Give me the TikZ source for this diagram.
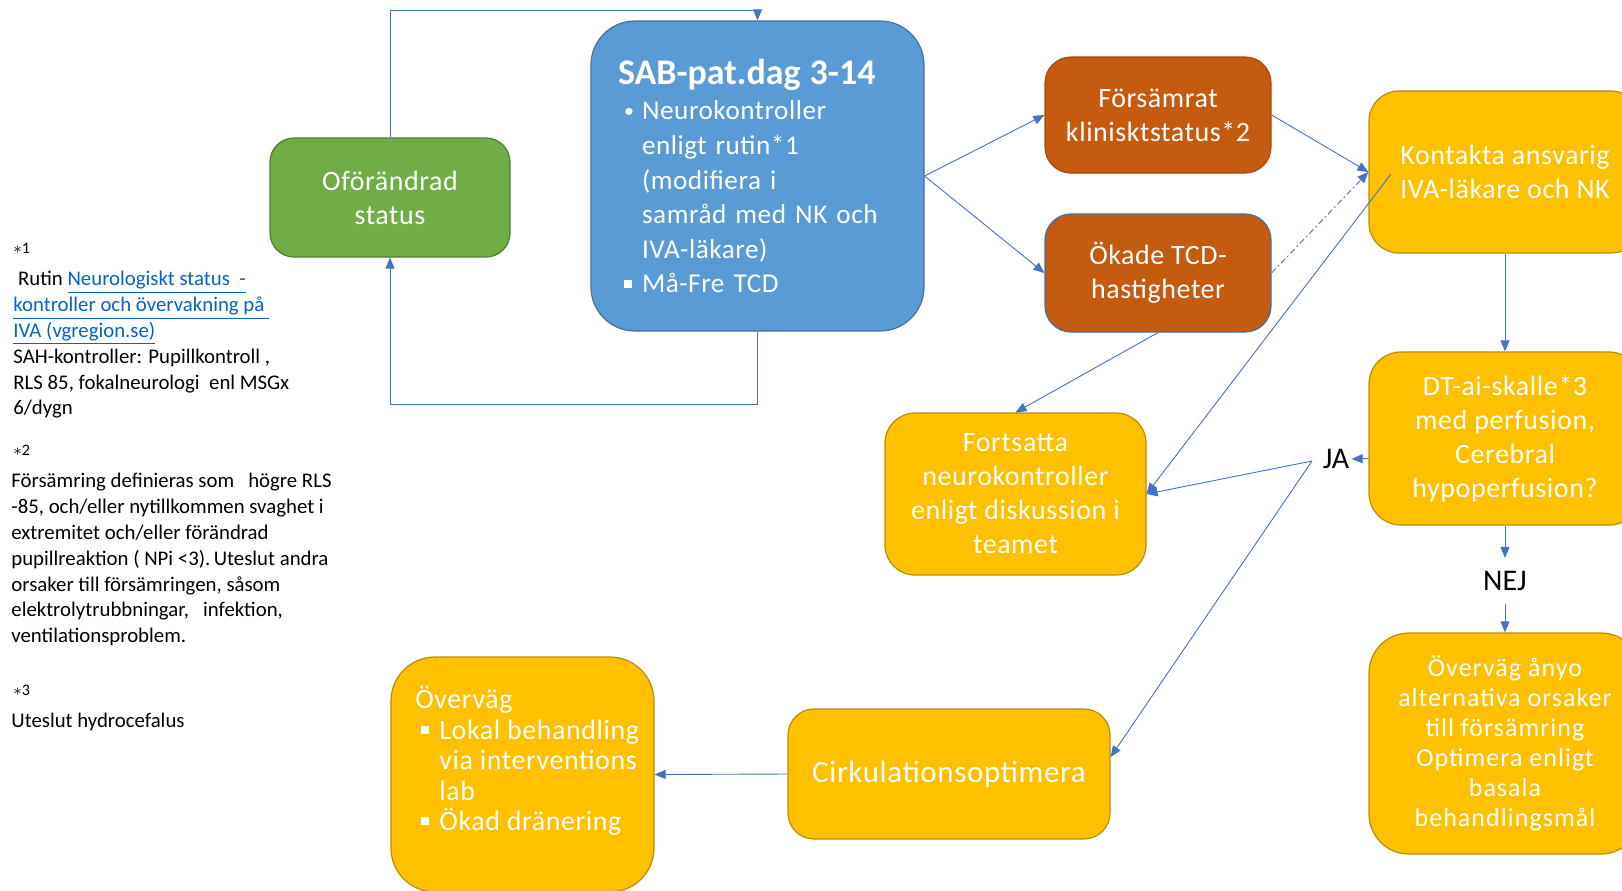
\documentclass[tikz,border=0pt]{standalone}
\usepackage{fontspec}
\setmainfont{Carlito}
\newfontfamily\boxfont[LetterSpace=2]{Carlito}
\newfontfamily\altfont[LetterSpace=4]{Carlito}
\usetikzlibrary{arrows.meta,calc}

\definecolor{stgreen}{HTML}{70AD47}
\definecolor{stgreendk}{HTML}{507E32}
\definecolor{sabblue}{HTML}{5B9BD5}
\definecolor{sabbluedk}{HTML}{41719C}
\definecolor{rust}{HTML}{C55A11}
\definecolor{rustdk}{HTML}{A64B0E}
\definecolor{amber}{HTML}{FFC000}
\definecolor{amberdk}{HTML}{BC8C00}
\definecolor{connblue}{HTML}{4472C4}
\definecolor{linkblue}{HTML}{0563C1}

\newcommand\sqbullet{\rule[2.6pt]{4pt}{4pt}}
\newcommand\rdbullet{\raisebox{1pt}{\fontsize{10}{10}\selectfont\textbullet}}
\newcommand\linktext[1]{\textcolor{linkblue}{\underline{#1}}}

\tikzset{
  box/.style={draw, line width=0.6pt, align=center, text=white, inner sep=0pt,
    font=\boxfont\fontsize{14}{17}\selectfont},
  greenbox/.style={box, fill=stgreen, draw=stgreendk, rounded corners=12pt},
  bluebox/.style={box, fill=sabblue, draw=sabbluedk, rounded corners=22pt},
  rustbox/.style={box, fill=rust, draw=rustdk, rounded corners=13pt},
  amberbox/.style={box, fill=amber, draw=amberdk, rounded corners=15pt},
  conn/.style={draw=connblue, line width=0.45pt, -{Triangle[length=5.5pt,width=4.5pt]}},
  note/.style={inner sep=0pt, align=left, font=\fontsize{10.4}{12.9}\selectfont},
  star/.style={inner sep=0pt, font=\fontsize{8}{9}\selectfont},
  answer/.style={font=\fontsize{15}{18}\selectfont, inner xsep=1pt, inner ysep=6.5pt}
}

\begin{document}
\begin{tikzpicture}[x=0.5pt,y=-0.5pt]
\useasboundingbox (0,0) rectangle (1622,890);

% footnotes
\node[star, anchor=base west] (s1) at (13,253) {$\ast$1};
\node[note, anchor=north west] (n1) at (13,271) {\ Rutin \linktext{Neurologiskt status\ \ -}\\
  \linktext{kontroller och övervakning på\ }\\
  \linktext{IVA (vgregion.se)}\\
  SAH-kontroller: Pupillkontroll ,\\
  RLS 85, fokalneurologi\ \ enl MSGx\\
  6/dygn};
\node[star, anchor=base west] (s2) at (13,455) {$\ast$2};
\node[note, anchor=north west] (n2) at (11,473) {Försämring definieras som\ \ \ högre RLS\\
  -85, och/eller nytillkommen svaghet i\\
  extremitet och/eller förändrad\\
  pupillreaktion ( NPi <3).\,Uteslut andra\\
  orsaker till försämringen, såsom\\
  elektrolytrubbningar,\ \ \ infektion,\\
  ventilationsproblem.};
\node[star, anchor=base west] (s3) at (13,695) {$\ast$3};
\node[note, anchor=north west] (n3) at (11,713) {Uteslut hydrocefalus};

% boxes
\node[greenbox, minimum width=120pt, minimum height=59.5pt] (stat) at (390,197.5) {Oförändrad\\status};
\node[bluebox, minimum width=166.5pt, minimum height=155pt, text width=139.5pt, align=left,
  font=\boxfont\fontsize{13.6}{17.3}\selectfont] (sab) at (757.5,176) {%
  {\normalfont\fontsize{18}{20}\selectfont\bfseries SAB-pat.dag 3-14}\\[0.5pt]
  \hspace*{3pt}\makebox[9pt][l]{\rdbullet}Neurokontroller\\
  \hspace*{12pt}enligt rutin*1\\
  \hspace*{12pt}(modifiera i\\
  \hspace*{12pt}samråd med NK och\\
  \hspace*{12pt}IVA-läkare)\\
  \hspace*{3pt}\makebox[9pt][l]{\sqbullet}Må-Fre TCD};
\node[rustbox, minimum width=113pt, minimum height=58pt] (fors) at (1158,115) {Försämrat\\klinisktstatus*2};
\node[rustbox, draw=sabbluedk, minimum width=113pt, minimum height=59pt] (tcd) at (1158,273) {Ökade TCD-\\hastigheter};
\node[amberbox, minimum width=136pt, minimum height=81pt] (kont) at (1505,172) {Kontakta ansvarig\\IVA-läkare och NK};
\node[amberbox, minimum width=136pt, minimum height=86.5pt, rounded corners=16pt,
  font=\boxfont\fontsize{14}{17}\selectfont] (dt) at (1505,438.5) {DT-ai-skalle*3\\med perfusion,\\Cerebral\\hypoperfusion?};
\node[amberbox, minimum width=136pt, minimum height=110.5pt, rounded corners=20pt,
  font=\altfont\fontsize{13}{15}\selectfont] (alt) at (1505,743.5) {Överväg ånyo\\alternativa orsaker\\till försämring\\Optimera enligt\\basala\\behandlingsmål};
\node[amberbox, minimum width=130.5pt, minimum height=81pt] (fort) at (1015.5,494) {Fortsatta\\neurokontroller\\enligt diskussion i\\teamet};
\node[amberbox, minimum width=161pt, minimum height=65pt, rounded corners=13pt,
  font=\boxfont\fontsize{15.5}{18}\selectfont] (cirk) at (949,774) {Cirkulationsoptimera};
\node[amberbox, minimum width=131.5pt, minimum height=117.5pt, rounded corners=22pt] (overv) at (522.5,774.5) {};
\node[anchor=north west, align=left, text=white, inner sep=0pt,
  font=\boxfont\fontsize{14}{15.2}\selectfont] (overvtxt) at (415,686) {Överväg\\
  \hspace*{3pt}\makebox[9pt][l]{\sqbullet}Lokal behandling\\
  \hspace*{12pt}via interventions\\
  \hspace*{12pt}lab\\
  \hspace*{3pt}\makebox[9pt][l]{\sqbullet}Ökad dränering};

\node[answer] (ja) at (1336,459) {JA};
\node[answer] (nej) at (1505,581) {NEJ};

% connectors
\coordinate (top) at (0,10);
\coordinate (bot) at (0,404);
\coordinate (kin) at (1391,174);
\coordinate (jaj) at (1312,461);

\draw[conn] (stat.north) |- (top -| sab.north) -- (sab.north);
\draw[conn] (sab.south) |- (bot -| stat.south) -- (stat.south);
\draw[conn] (sab.east) -- (fors.west);
\draw[conn] (sab.east) -- (tcd.west);
\draw[conn] (fors.east) -- (kont.west);
\draw[conn, dash pattern=on 3pt off 1.5pt on 0.8pt off 1.5pt] (tcd.east) -- (kont.west);
\draw[conn] (tcd.south) -- (fort.north);
\draw[conn] (kin) -- (fort.east);
\draw[conn] (kont.south) -- (dt.north);
\draw[conn] ($(dt.west)+(0,20)$) -- (ja.east);
\draw[conn] (jaj) -- (fort.east);
\draw[conn] (jaj) -- ($(cirk.east)+(0,-17)$);
\draw[conn] (dt.south) -- (nej.north);
\draw[conn] (nej.south) -- (alt.north);
\draw[conn] (cirk.west) -- (overv.east);
\end{tikzpicture}
\end{document}
